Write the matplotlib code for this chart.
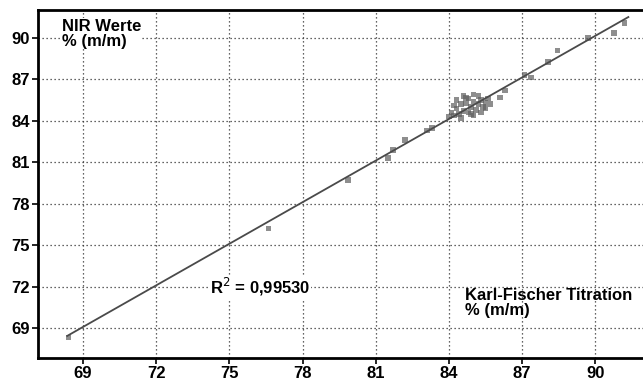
import numpy as np
import matplotlib
matplotlib.use("Agg")
import matplotlib.pyplot as plt

plt.rcParams['font.family'] = ['Liberation Sans', 'DejaVu Sans']

# Karl-Fischer reference values (x) vs. NIR predictions (y), % (m/m)
kf_values = [68.4, 76.6, 79.85, 81.5, 81.7, 82.2, 83.1, 83.3,
             84.0, 84.1, 84.2, 84.3, 84.4, 84.5, 84.6, 84.7, 84.8, 84.9,
             85.0, 85.1, 85.2, 85.3, 85.4, 85.5, 85.6, 85.7, 84.3, 84.6,
             84.9, 85.2, 85.5, 84.5, 85.0, 84.8, 84.2, 84.7, 85.3, 85.0,
             86.1, 86.3, 87.1, 87.35, 88.05, 88.45, 89.7, 90.75, 91.2]
nir_values = [68.3, 76.2, 79.7, 81.3, 81.9, 82.6, 83.3, 83.5,
              84.3, 84.6, 84.4, 84.9, 84.5, 85.2, 84.7, 85.3, 84.6, 85.0,
              85.4, 84.8, 85.2, 85.5, 85.0, 85.3, 85.6, 85.2, 85.5, 85.8,
              84.5, 85.8, 84.9, 84.2, 84.4, 85.6, 85.1, 85.7, 84.6, 85.9,
              85.7, 86.2, 87.3, 87.15, 88.25, 89.1, 90.0, 90.35, 91.1]
r_squared = "0,99530"
ticks = [69, 72, 75, 78, 81, 84, 87, 90]

fig = plt.figure(figsize=(6.43, 3.81), dpi=100)
ax = fig.add_axes([0.059, 0.0604, 0.941, 0.9136])

x = np.array(kf_values)
y = np.array(nir_values)

ax.scatter(x, y, s=16, marker='s', color='#5e5e5e', alpha=0.7,
           edgecolors='none', zorder=3)

# regression line over the data range
slope, intercept = np.polyfit(x, y, 1)
xl = np.array([68.35, 91.35])
ax.plot(xl, slope * xl + intercept, color='#4a4a4a', lw=1.3, zorder=4)

ax.set_xlim(67.15, 91.95)
ax.set_ylim(66.83, 92.03)
ax.set_xticks(ticks)
ax.set_yticks(ticks)
ax.set_xticklabels([str(t) for t in ticks], fontweight='bold', fontsize=12)
ax.set_yticklabels([str(t) for t in ticks], fontweight='bold', fontsize=12)
ax.tick_params(axis='both', length=4, width=1.2, color='black', pad=2)

ax.grid(True, linestyle=(0, (1, 2.2)), color='#333333', linewidth=0.9)
ax.set_axisbelow(True)

for side in ('left', 'bottom', 'top'):
    ax.spines[side].set_linewidth(2.0)
    ax.spines[side].set_color('black')
ax.spines['right'].set_visible(False)

ax.text(0.04, 0.975, "NIR Werte\n% (m/m)", transform=ax.transAxes,
        fontsize=12, fontweight='bold', va='top', ha='left', linespacing=1.0,
        bbox=dict(facecolor='white', edgecolor='none', pad=0.5))
ax.text(0.284, 0.203, "R$^2$ = " + r_squared, transform=ax.transAxes,
        fontsize=12, fontweight='bold', va='center', ha='left',
        bbox=dict(facecolor='white', edgecolor='none', pad=0.5))
ax.text(0.705, 0.2, "Karl-Fischer Titration\n% (m/m)", transform=ax.transAxes,
        fontsize=12, fontweight='bold', va='top', ha='left', linespacing=1.0)

fig.savefig("out.png", dpi=100)
